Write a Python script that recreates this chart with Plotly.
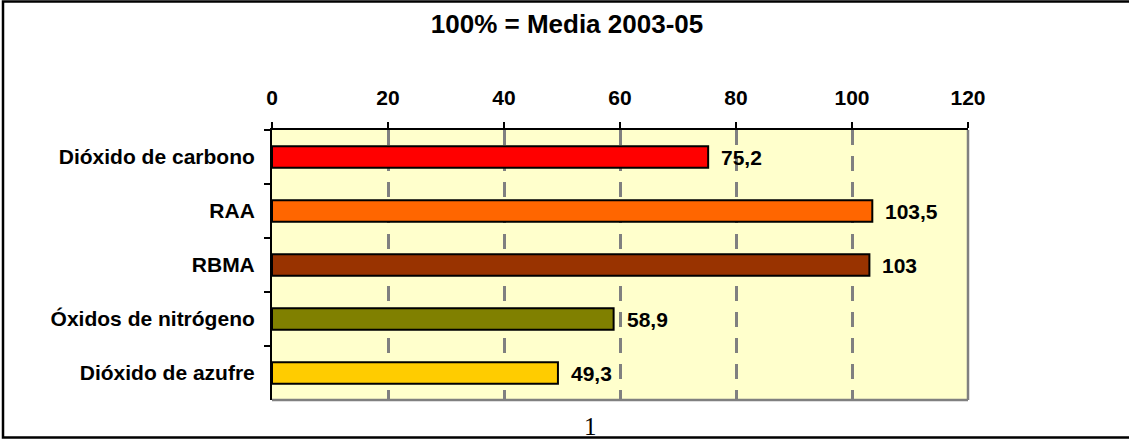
import plotly.graph_objects as go

categories = ["Dióxido de carbono", "RAA", "RBMA", "Óxidos de nitrógeno", "Dióxido de azufre"]
values = [75.2, 103.5, 103, 58.9, 49.3]
bar_colors = ["#FF0000", "#FF6600", "#993300", "#808000", "#FFCC00"]
x_ticks = [0, 20, 40, 60, 80, 100, 120]
title_text = "100% = Media 2003-05"
page_number = "1"

W, H = 1129, 441
L, R, T, B = 272, 968, 130, 400

def px_x(px):
    return (px - L) / (R - L)

def px_y(py):
    return (B - py) / (B - T)

def fmt(v):
    s = ("%g" % v)
    return s.replace(".", ",")

fig = go.Figure()
fig.add_trace(go.Bar(
    x=values, y=categories, orientation="h",
    marker=dict(color=bar_colors, line=dict(color="black", width=2)),
    width=0.4, hoverinfo="skip",
))

font_b = dict(family="Liberation Sans, Arial", size=21, color="black", weight="bold")

for v, c in zip(values, categories):
    fig.add_annotation(x=v, y=c, xref="x", yref="y", text=fmt(v), showarrow=False,
                       xanchor="left", yanchor="middle", xshift=11, font=font_b)

fig.update_layout(
    width=W, height=H,
    margin=dict(l=L, r=W - R, t=T, b=H - B, pad=0),
    paper_bgcolor="white", plot_bgcolor="#FFFFCC",
    showlegend=False,
    title=dict(text=title_text, x=567 / W, y=1 - 24 / H, xanchor="center", yanchor="middle",
               font=dict(family="Liberation Sans, Arial", size=26, color="black", weight="bold")),
    xaxis=dict(side="top", range=[0, 120], tickvals=x_ticks, ticktext=[str(t) for t in x_ticks],
               showline=True, linecolor="black", linewidth=2,
               ticks="outside", ticklen=6, tickwidth=2, tickcolor="black",
               ticklabelstandoff=9,
               showgrid=True, gridcolor="#808080", gridwidth=2.5, griddash="15px,11px",
               zeroline=False, tickfont=font_b, fixedrange=True),
    yaxis=dict(autorange="reversed", type="category", categoryorder="array", categoryarray=categories,
               showline=True, linecolor="black", linewidth=2,
               ticks="outside", tickson="boundaries", ticklen=6, tickwidth=2, tickcolor="black",
               ticklabelstandoff=11,
               showgrid=False, zeroline=False, tickfont=font_b, fixedrange=True),
    shapes=[
        dict(type="line", xref="paper", yref="paper", x0=1, x1=1, y0=0, y1=1,
             line=dict(color="#808080", width=2.5)),
        dict(type="line", xref="paper", yref="paper", x0=0, x1=1, y0=0, y1=0,
             line=dict(color="#808080", width=2.5)),
        dict(type="rect", xref="paper", yref="paper",
             x0=px_x(3), x1=px_x(1140), y0=px_y(437.5), y1=px_y(1.5),
             line=dict(color="black", width=2.5), fillcolor="rgba(0,0,0,0)", layer="above"),
    ],
)

fig.add_annotation(x=px_x(590), y=px_y(426), xref="paper", yref="paper", text=page_number,
                   showarrow=False, xanchor="center", yanchor="middle",
                   font=dict(family="Liberation Serif, Times New Roman", size=25, color="black"))

fig.write_html("out.html")
